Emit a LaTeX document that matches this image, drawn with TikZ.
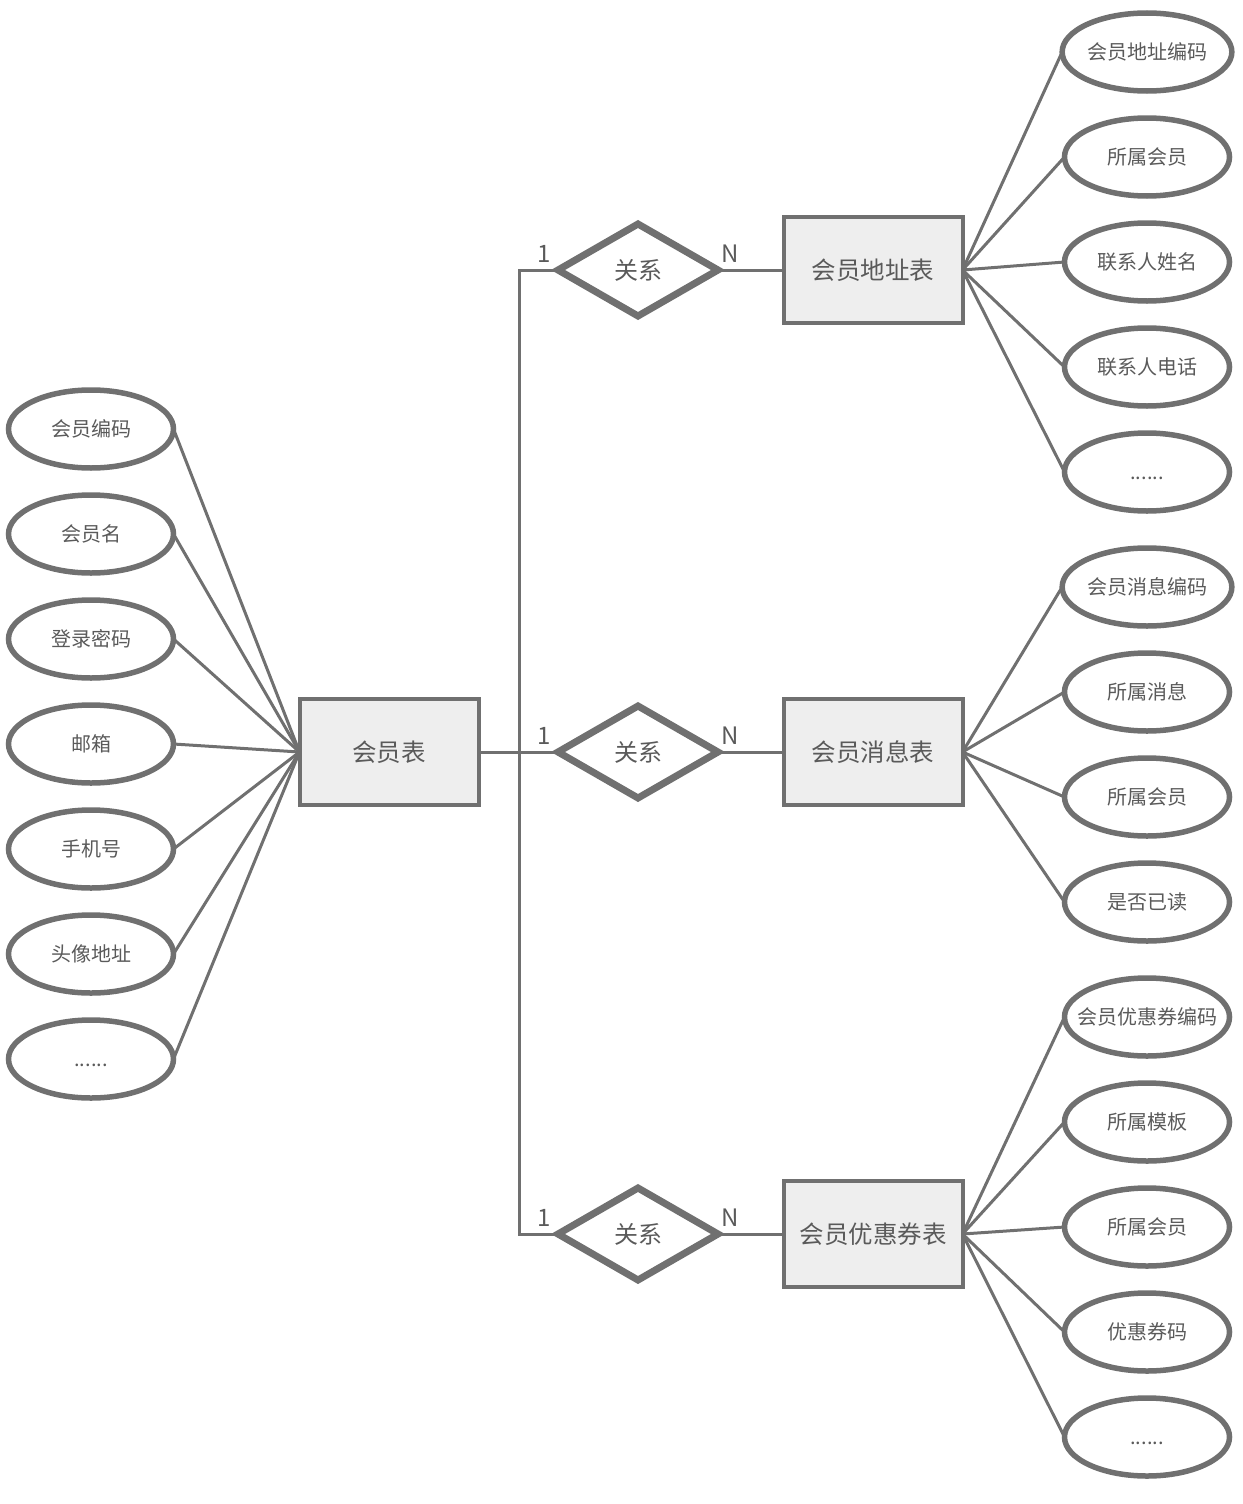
\documentclass[tikz,border=0pt]{standalone}
\usepackage{fontspec}
\setmainfont{Noto Sans CJK SC}
\usetikzlibrary{shapes.geometric}
\definecolor{lc}{HTML}{707070}
\definecolor{tc}{HTML}{5A5A5A}
\definecolor{fc}{HTML}{EEEEEE}
\begin{document}
\begin{tikzpicture}[x=1pt,y=-1pt,
  attr/.style={ellipse,draw=lc,line width=5.5pt,minimum width=165pt,minimum height=78pt,inner sep=0pt,outer sep=0pt,text=tc,font=\fontsize{20}{22}\selectfont},
  ent/.style={rectangle,draw=lc,fill=fc,line width=4pt,minimum width=179pt,minimum height=106pt,inner sep=0pt,outer sep=0pt,text=tc,font=\fontsize{24.5}{26}\selectfont},
  rel/.style={diamond,draw=lc,line width=7pt,minimum width=160pt,minimum height=92pt,inner sep=0pt,outer sep=0pt,text=tc,font=\fontsize{24}{26}\selectfont},
  conn/.style={draw=lc,line width=3pt},
  card/.style={text=tc,font=\fontsize{24}{26}\selectfont,inner sep=0pt}]
\useasboundingbox (0,0) rectangle (1242,1504);
% entities
\node[ent] (m) at (389,752) {会员表};
\node[ent] (ea) at (873,270) {会员地址表};
\node[ent] (em) at (873,752) {会员消息表};
\node[ent] (ec) at (873,1234) {会员优惠券表};
% relations
\node[rel] (d1) at (638,270) {关系};
\node[rel] (d2) at (638,752) {关系};
\node[rel] (d3) at (638,1234) {关系};
% left attributes
\node[attr] (l1) at (91,429) {会员编码};
\node[attr] (l2) at (91,534) {会员名};
\node[attr] (l3) at (91,639) {登录密码};
\node[attr] (l4) at (91,744) {邮箱};
\node[attr] (l5) at (91,849) {手机号};
\node[attr] (l6) at (91,954) {头像地址};
\node[attr] (l7) at (91,1059) {\vphantom{会}......};
% address attributes
\node[attr] (a1) at (1147,52) {会员地址编码};
\node[attr] (a2) at (1147,157) {所属会员};
\node[attr] (a3) at (1147,262) {联系人姓名};
\node[attr] (a4) at (1147,367) {联系人电话};
\node[attr] (a5) at (1147,472) {\vphantom{会}......};
% message attributes
\node[attr] (b1) at (1147,587) {会员消息编码};
\node[attr] (b2) at (1147,692) {所属消息};
\node[attr] (b3) at (1147,797) {所属会员};
\node[attr] (b4) at (1147,902) {是否已读};
% coupon attributes
\node[attr] (c1) at (1147,1017) {\makebox[0pt]{会员优惠券编码}};
\node[attr] (c2) at (1147,1122) {所属模板};
\node[attr] (c3) at (1147,1227) {所属会员};
\node[attr] (c4) at (1147,1332) {优惠券码};
\node[attr] (c5) at (1147,1437) {\vphantom{会}......};
% connectors
\foreach \n in {l1,l2,l3,l4,l5,l6,l7} \draw[conn] (\n.east) -- (m.west);
\foreach \n in {a1,a2,a3,a4,a5} \draw[conn] (ea.east) -- (\n.west);
\foreach \n in {b1,b2,b3,b4} \draw[conn] (em.east) -- (\n.west);
\foreach \n in {c1,c2,c3,c4,c5} \draw[conn] (ec.east) -- (\n.west);
\draw[conn] (d1.west) -- ++(-39,0) coordinate (bus) |- (d3.west);
\draw[conn] (m.east) -- (d2.west);
\draw[conn] (d1.east) -- (ea.west);
\draw[conn] (d2.east) -- (em.west);
\draw[conn] (d3.east) -- (ec.west);
% cardinalities
\foreach \d in {d1,d2,d3} {
  \node[card] at ([xshift=-14pt,yshift=16pt]\d.west) {1};
  \node[card] at ([xshift=12pt,yshift=16pt]\d.east) {N};
}
\end{tikzpicture}
\end{document}
